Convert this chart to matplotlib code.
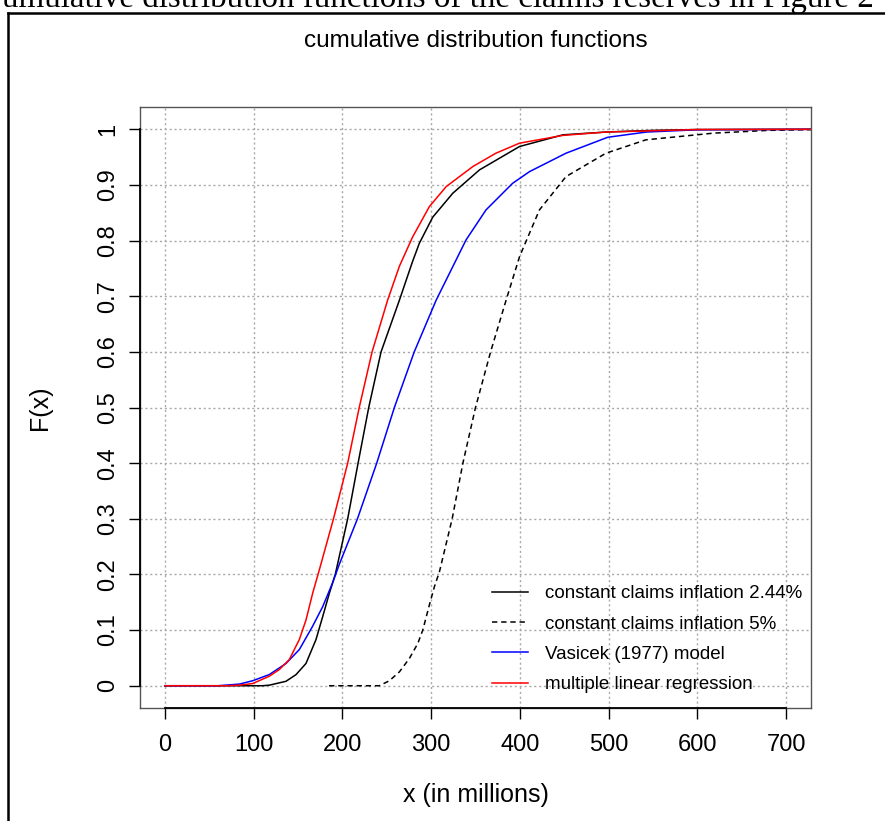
import matplotlib
matplotlib.use("Agg")
import matplotlib.pyplot as plt
from matplotlib.lines import Line2D

# ---------------- data ----------------
x_const244 = [0, 110, 117.6, 136.5, 147.8, 159, 170.3, 177.8, 185.3, 192, 206, 217.7,
              229.7, 243.6, 264.3, 279, 286.7, 301.8, 324.4, 354.5, 399.6, 448.5, 497, 550, 600, 750]
F_const244 = [0, 0, 0.001, 0.008, 0.02, 0.04, 0.083, 0.124, 0.166, 0.2, 0.3, 0.4,
              0.5, 0.6, 0.693, 0.762, 0.795, 0.842, 0.885, 0.927, 0.969, 0.99, 0.995, 0.998, 0.9995, 1.0]

x_const5 = [185, 241.6, 253, 264.3, 275.5, 285, 290.6, 298, 303.7, 309.4, 323.7, 335.8,
            350, 367, 384.5, 399.6, 422, 452, 497, 542, 618, 680, 750]
F_const5 = [0, 0, 0.009, 0.025, 0.049, 0.076, 0.1, 0.145, 0.178, 0.205, 0.3, 0.4,
            0.5, 0.6, 0.693, 0.771, 0.855, 0.915, 0.957, 0.981, 0.993, 0.998, 1.0]

x_vasicek = [0, 60, 84, 99, 117.6, 136.5, 151.5, 166.5, 177.8, 189, 197, 217, 238.7,
             258.6, 281, 305.7, 339.3, 361.8, 391.9, 411, 452, 499, 542.5, 599, 750]
F_vasicek = [0, 0, 0.003, 0.009, 0.02, 0.04, 0.065, 0.107, 0.142, 0.185, 0.22, 0.3, 0.4,
             0.5, 0.6, 0.693, 0.801, 0.855, 0.903, 0.924, 0.957, 0.9856, 0.995, 0.999, 1.0]

x_mlr = [0, 70, 84, 99, 117.6, 128.9, 140.2, 151.5, 159, 166.5, 174, 190, 206, 219,
         233.5, 251, 264.3, 279, 298, 317, 347, 373, 399.6, 448.5, 497, 600, 750]
F_mlr = [0, 0, 0.001, 0.004, 0.017, 0.029, 0.047, 0.083, 0.118, 0.166, 0.208, 0.3, 0.4, 0.5,
         0.6, 0.693, 0.754, 0.806, 0.861, 0.897, 0.933, 0.957, 0.975, 0.989, 0.995, 0.9995, 1.0]

labels = ["constant claims inflation 2.44%", "constant claims inflation 5%",
          "Vasicek (1977) model", "multiple linear regression"]
x_ticks = [0, 100, 200, 300, 400, 500, 600, 700]
y_ticks = [0, 0.1, 0.2, 0.3, 0.4, 0.5, 0.6, 0.7, 0.8, 0.9, 1]
y_ticklabels = ["0", "0.1", "0.2", "0.3", "0.4", "0.5", "0.6", "0.7", "0.8", "0.9", "1"]

title = "cumulative distribution functions"
xlabel = "x (in millions)"
ylabel = "F(x)"
caption = "umulative distribution functions of the claims reserves in Figure 2"

# ---------------- figure ----------------
W, H = 885, 821
DPI = 100
plt.rcParams["font.family"] = ["Liberation Sans", "DejaVu Sans"]
fig = plt.figure(figsize=(W / DPI, H / DPI), dpi=DPI)

ax_l, ax_r, ax_t, ax_b = 140, 811, 107, 708
ax = fig.add_axes([ax_l / W, 1 - ax_b / H, (ax_r - ax_l) / W, (ax_b - ax_t) / H])

lw = 1.1
ax.plot(x_const244, F_const244, color="black", lw=lw, label=labels[0])
ax.plot(x_const5, F_const5, color="black", lw=lw, dashes=(3.5, 2.5), label=labels[1])
ax.plot(x_vasicek, F_vasicek, color="#0000FF", lw=lw, label=labels[2])
ax.plot(x_mlr, F_mlr, color="#FF0000", lw=lw, label=labels[3])

ax.set_xlim(-28, 728)
ax.set_ylim(-0.04, 1.04)
ax.set_xticks(x_ticks)
ax.set_xticklabels([str(v) for v in x_ticks])
ax.set_yticks(y_ticks)
ax.set_yticklabels(y_ticklabels, rotation=90, va="center")

ax.grid(True, color="#A8A8A8", lw=1.0, linestyle=(0, (1.5, 2)))
ax.set_axisbelow(True)

for s in ax.spines.values():
    s.set_color("#555555")
    s.set_linewidth(1.0)
ax.tick_params(axis="both", direction="out", length=8, width=1.0, color="black",
               labelsize=17)
ax.tick_params(axis="x", pad=11)
ax.tick_params(axis="y", pad=7)

# axis lines over the tick range (R style)
ax.plot([0, 700], [-0.04, -0.04], color="black", lw=1.3, clip_on=False, zorder=5)
ax.plot([-28, -28], [0, 1], color="black", lw=1.3, clip_on=False, zorder=5)

ax.set_title(title, fontsize=17.5, pad=0, y=1 + (ax_t - 41) / (ax_b - ax_t), va="center")
ax.set_xlabel(xlabel, fontsize=18, labelpad=0)
ax.xaxis.set_label_coords(0.5, -(795 - ax_b) / (ax_b - ax_t))
ax.xaxis.label.set_va("center")
ax.set_ylabel(ylabel, fontsize=18, labelpad=0)
ax.yaxis.set_label_coords(-(ax_l - 40) / (ax_r - ax_l), 0.5)
ax.yaxis.label.set_va("center")

leg = ax.legend(loc="upper left", bbox_to_anchor=((492 - ax_l) / (ax_r - ax_l),
                1 - (585 - ax_t) / (ax_b - ax_t)),
                frameon=False, fontsize=13.5, handlelength=1.9, handletextpad=0.95,
                labelspacing=0.71, borderaxespad=0, borderpad=0)

# outer frame (partially cropped)
fig.add_artist(Line2D([8 / W, 8 / W], [1 - 13 / H, 0], color="black", lw=1.8,
                      transform=fig.transFigure))
fig.add_artist(Line2D([8 / W, 1], [1 - 13 / H, 1 - 13 / H], color="black", lw=1.8,
                      transform=fig.transFigure))

# caption (cut at top)
cap = fig.text(874 / W, 1 - 7 / H, caption, family=["Liberation Serif"], fontsize=20,
               ha="right", va="baseline")
fig.canvas.draw()
r = fig.canvas.get_renderer()
bb = cap.get_window_extent(r)
cap.set_fontsize(20 * 872 / bb.width)

fig.savefig("out.png", dpi=DPI)
